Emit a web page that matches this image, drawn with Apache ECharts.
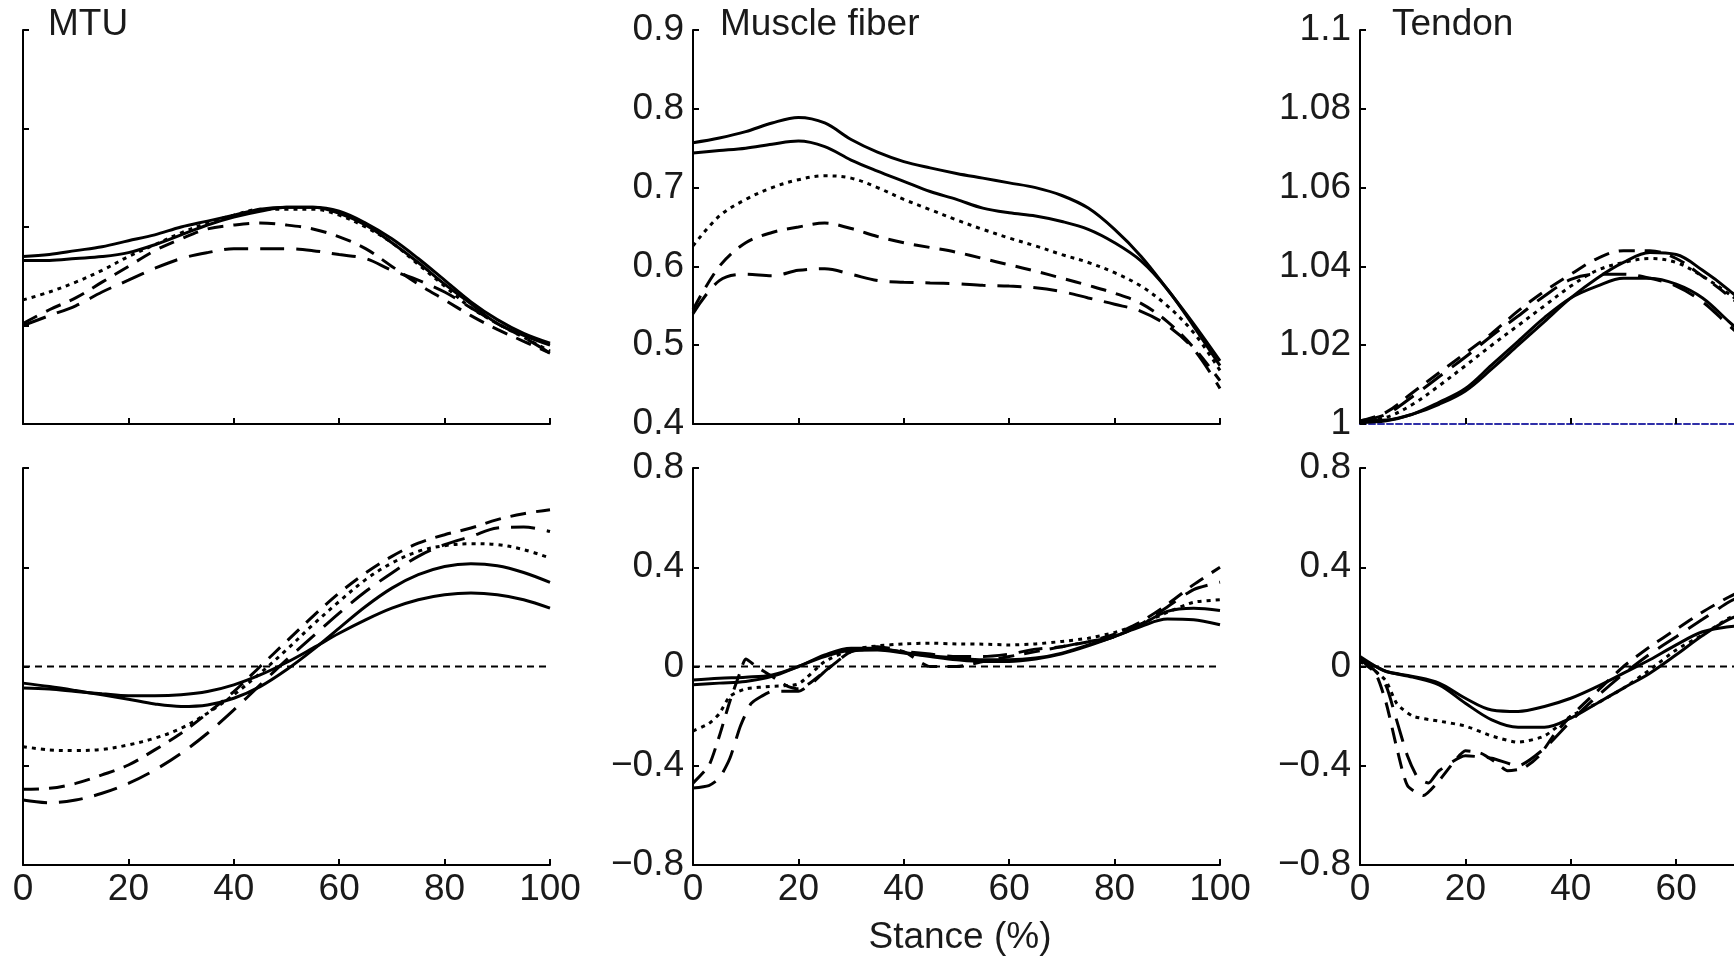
<!DOCTYPE html>
<html>
<head>
<meta charset="utf-8">
<script src="https://cdn.jsdelivr.net/npm/echarts@6/dist/echarts.min.js"></script>
<style>
html,body{margin:0;padding:0;background:#fff;}
#chart{width:1734px;height:960px;}
</style>
</head>
<body>
<div id="chart"></div>
<script>
// ---------------- DATA ----------------
const stance = [0,5,10,15,20,25,30,35,40,45,50,55,60,65,70,75,80,85,90,95,100];
const stanceTendon = [0,5,10,15,20,25,30,35,40,45,50,55,60,65,70,75];
const xTicks = [0,20,40,60,80,100];

// MTU length (top left)
const mtuLenSolid1 = [0.985,0.986,0.988,0.990,0.993,0.996,1.000,1.003,1.006,1.009,1.010,1.010,1.008,1.002,0.994,0.984,0.973,0.962,0.953,0.946,0.941];
const mtuLenSolid2 = [0.983,0.983,0.984,0.985,0.987,0.991,0.996,1.001,1.005,1.008,1.010,1.010,1.007,1.001,0.992,0.982,0.971,0.961,0.951,0.945,0.940];
const mtuLenDotted = [0.963,0.967,0.972,0.978,0.985,0.991,0.997,1.002,1.006,1.009,1.009,1.009,1.006,1.000,0.992,0.981,0.970,0.959,0.951,0.944,0.937];
const mtuLenDash1  = [0.951,0.958,0.964,0.972,0.980,0.988,0.994,0.999,1.001,1.002,1.001,0.999,0.995,0.989,0.980,0.971,0.963,0.955,0.948,0.942,0.936];
const mtuLenDash2  = [0.950,0.955,0.960,0.967,0.973,0.979,0.984,0.987,0.989,0.989,0.989,0.988,0.986,0.984,0.978,0.973,0.967,0.959,0.951,0.944,0.936];

// MTU velocity (bottom left)
const mtuVelSolid1 = [-0.067,-0.081,-0.097,-0.114,-0.132,-0.151,-0.161,-0.155,-0.128,-0.081,-0.013,0.067,0.155,0.242,0.316,0.370,0.403,0.414,0.406,0.379,0.339];
const mtuVelSolid2 = [-0.087,-0.091,-0.101,-0.110,-0.118,-0.118,-0.114,-0.101,-0.074,-0.034,0.016,0.074,0.134,0.188,0.235,0.269,0.289,0.296,0.289,0.269,0.235];
const mtuVelDotted = [-0.323,-0.336,-0.339,-0.334,-0.316,-0.289,-0.249,-0.188,-0.114,-0.027,0.067,0.168,0.262,0.350,0.417,0.464,0.487,0.495,0.491,0.471,0.437];
const mtuVelDash1  = [-0.495,-0.491,-0.471,-0.437,-0.397,-0.336,-0.269,-0.188,-0.101,0.000,0.101,0.202,0.296,0.377,0.444,0.497,0.531,0.558,0.592,0.616,0.632];
const mtuVelDash2  = [-0.538,-0.549,-0.538,-0.511,-0.471,-0.417,-0.350,-0.269,-0.175,-0.074,0.027,0.121,0.215,0.302,0.377,0.444,0.491,0.524,0.558,0.562,0.544];

// Muscle fiber length (top middle)
const fibLenSolid1 = [0.757,0.763,0.771,0.782,0.789,0.782,0.761,0.745,0.733,0.725,0.718,0.712,0.706,0.700,0.690,0.674,0.647,0.613,0.571,0.527,0.480];
const fibLenSolid2 = [0.744,0.747,0.750,0.755,0.759,0.752,0.735,0.721,0.708,0.695,0.685,0.674,0.668,0.664,0.657,0.647,0.630,0.607,0.571,0.524,0.474];
const fibLenDotted = [0.626,0.664,0.685,0.700,0.710,0.715,0.712,0.700,0.685,0.672,0.659,0.647,0.636,0.626,0.615,0.605,0.592,0.575,0.550,0.516,0.468];
const fibLenDash1  = [0.545,0.600,0.630,0.643,0.650,0.655,0.648,0.638,0.630,0.624,0.618,0.610,0.602,0.594,0.585,0.576,0.566,0.553,0.530,0.497,0.455];
const fibLenDash2  = [0.540,0.582,0.590,0.588,0.595,0.597,0.590,0.582,0.580,0.579,0.578,0.576,0.575,0.573,0.568,0.560,0.552,0.543,0.525,0.495,0.445];

// Muscle fiber velocity (bottom middle)
const fibVelSolid1 = [-0.054,-0.047,-0.043,-0.034,0.000,0.047,0.074,0.074,0.056,0.043,0.034,0.027,0.027,0.034,0.054,0.087,0.121,0.161,0.191,0.188,0.168];
const fibVelSolid2 = [-0.074,-0.067,-0.060,-0.040,0.000,0.040,0.065,0.067,0.054,0.040,0.027,0.020,0.020,0.030,0.051,0.083,0.121,0.168,0.222,0.235,0.226];
const fibVelDottedX = [0,3,5,7,10,15,20,25,30,35,40,45,50,55,60,65,70,75,80,85,90,95,100];
const fibVelDotted  = [-0.26,-0.23,-0.19,-0.12,-0.09,-0.08,-0.07,0.02,0.067,0.083,0.091,0.094,0.091,0.090,0.087,0.091,0.101,0.114,0.137,0.172,0.218,0.259,0.269];
const fibVelDash1X = [0,3,5,7,9,10,12,15,18,20,22,25,30,35,40,45,50,55,60,65,70,75,80,85,90,95,100];
const fibVelDash1  = [-0.47,-0.40,-0.28,-0.14,-0.02,0.03,0.00,-0.04,-0.08,-0.09,-0.07,-0.02,0.06,0.08,0.06,0.00,0.00,0.02,0.04,0.06,0.08,0.10,0.13,0.18,0.25,0.33,0.40];
const fibVelDash2X = [0,3,5,7,9,11,13,15,18,20,23,25,30,35,40,45,50,55,60,65,70,75,80,85,90,95,100];
const fibVelDash2  = [-0.49,-0.48,-0.45,-0.37,-0.24,-0.15,-0.12,-0.10,-0.10,-0.10,-0.06,-0.02,0.06,0.07,0.06,0.05,0.04,0.04,0.05,0.07,0.08,0.10,0.12,0.17,0.24,0.31,0.34];

// Tendon length (top right)
const tenLenSolid1 = [1.0008,1.001,1.0025,1.005,1.0084,1.014,1.020,1.026,1.032,1.037,1.041,1.0435,1.043,1.039,1.034,1.028];
const tenLenSolid2 = [1.0004,1.0008,1.0025,1.0055,1.009,1.015,1.021,1.027,1.032,1.035,1.037,1.037,1.0355,1.032,1.026,1.020];
const tenLenDotted = [1.0008,1.0017,1.005,1.0097,1.0148,1.020,1.025,1.030,1.035,1.039,1.041,1.042,1.041,1.0375,1.033,1.028];
const tenLenDash1  = [1.0008,1.003,1.008,1.013,1.018,1.023,1.0287,1.0337,1.038,1.042,1.044,1.044,1.042,1.0375,1.0325,1.027];
const tenLenDash2  = [1.0008,1.0025,1.007,1.012,1.017,1.0224,1.0274,1.0325,1.0367,1.038,1.038,1.037,1.035,1.031,1.025,1.019];

// Tendon velocity (bottom right)
const tenVelSolidX = [0,3,5,10,15,20,25,30,35,40,45,50,55,60,65,70,75];
const tenVelSolid1 = [0.04,0.00,-0.02,-0.04,-0.067,-0.128,-0.175,-0.181,-0.161,-0.128,-0.081,-0.027,0.027,0.087,0.14,0.16,0.17];
const tenVelSolid2 = [0.03,0.00,-0.02,-0.043,-0.074,-0.148,-0.215,-0.245,-0.245,-0.208,-0.148,-0.087,-0.027,0.047,0.125,0.19,0.23];
const tenVelDottedX = [0,3,5,7,10,15,20,25,30,35,40,45,50,55,60,65,70,75];
const tenVelDotted  = [0.02,-0.02,-0.06,-0.15,-0.20,-0.22,-0.24,-0.28,-0.305,-0.28,-0.20,-0.148,-0.087,-0.013,0.067,0.128,0.195,0.25];
const tenVelDash1X = [0,3,5,7,9,12,15,18,20,23,26,28,31,34,37,40,45,50,55,60,65,70,75];
const tenVelDash1  = [0.03,-0.03,-0.15,-0.33,-0.48,-0.52,-0.46,-0.38,-0.34,-0.35,-0.39,-0.42,-0.41,-0.36,-0.27,-0.20,-0.10,0.00,0.08,0.15,0.22,0.28,0.33];
const tenVelDash2X = [0,3,5,7,9,11,13,15,20,25,30,35,40,45,50,55,60,65,70,75];
const tenVelDash2  = [0.03,-0.02,-0.08,-0.22,-0.36,-0.45,-0.47,-0.42,-0.36,-0.37,-0.40,-0.33,-0.22,-0.12,-0.03,0.05,0.12,0.19,0.26,0.31];

// Reference lines
const zeroLineX = [0,100];
const zeroLineY = [0,0];

// Panel titles and axis title
const panelTitles = ['MTU','Muscle fiber','Tendon'];
const xAxisTitle = 'Stance (%)';

// ---------------- BUILD ----------------
const FONT = '"Liberation Sans", Arial, Helvetica, sans-serif';
const TXT = '#1a1a1a';
const zip = (xs, ys) => xs.map((x, i) => [x, ys[i]]);
const fmt = v => {
  const s = String(+v.toFixed(2));
  return s.replace('-', '\u2212');
};

const styles = {
  solid:  {type:'solid', width:3},
  dotted: {type:[4,5], width:3},
  dash1:  {type:[16,10], width:3},
  dash2:  {type:[24,12], width:3}
};

function line(idx, data, st, smooth) {
  return {
    type:'line', xAxisIndex:idx, yAxisIndex:idx, data:data,
    showSymbol:false, symbol:'none', smooth: smooth === undefined ? 0.35 : smooth,
    lineStyle:Object.assign({color:'#000', cap:'butt'}, styles[st]),
    silent:true, z:3
  };
}

const colLeft = [23, 693, 1360];
const colWidth = 527;
const rows = [{top:30, height:394}, {top:468, height:397}];

const grids = [];
for (let r = 0; r < 2; r++) for (let c = 0; c < 3; c++) {
  grids.push({left:colLeft[c], top:rows[r].top, width:colWidth, height:rows[r].height,
    containLabel:false, outerBoundsMode:'none'});
}

const yRanges = [
  {min:0.9, max:1.1, interval:0.05, label:false},
  {min:0.4, max:0.9, interval:0.1, label:true},
  {min:1.0, max:1.1, interval:0.02, label:true},
  {min:-0.8, max:0.8, interval:0.4, label:false},
  {min:-0.8, max:0.8, interval:0.4, label:true},
  {min:-0.8, max:0.8, interval:0.4, label:true}
];

const xAxes = grids.map((g, i) => ({
  type:'value', gridIndex:i, min:xTicks[0], max:xTicks[xTicks.length-1], interval:xTicks[1]-xTicks[0],
  axisLine:{show:true, onZero:false, lineStyle: i === 2 ? {color:'#2f2fa8', width:2, type:[6,3]} : {color:'#000', width:2}},
  axisTick:{show:true, inside:true, length:6, lineStyle:{color:'#000', width:2}},
  axisLabel:{show:i >= 3, fontSize:37, color:TXT, fontFamily:FONT, margin:6, formatter:v => String(v)},
  splitLine:{show:false}
}));

const yAxes = yRanges.map((r, i) => ({
  type:'value', gridIndex:i, min:r.min, max:r.max, interval:r.interval,
  axisLine:{show:true, onZero:false, lineStyle:{color:'#000', width:2}},
  axisTick:{show:true, inside:true, length:6, lineStyle:{color:'#000', width:2}},
  axisLabel:{show:r.label, fontSize:37, color:TXT, fontFamily:FONT, margin:9, formatter:fmt},
  splitLine:{show:false}
}));

const series = [
  line(0, zip(stance, mtuLenSolid1), 'solid'),
  line(0, zip(stance, mtuLenSolid2), 'solid'),
  line(0, zip(stance, mtuLenDotted), 'dotted'),
  line(0, zip(stance, mtuLenDash1), 'dash1'),
  line(0, zip(stance, mtuLenDash2), 'dash2'),

  line(1, zip(stance, fibLenSolid1), 'solid'),
  line(1, zip(stance, fibLenSolid2), 'solid'),
  line(1, zip(stance, fibLenDotted), 'dotted'),
  line(1, zip(stance, fibLenDash1), 'dash1'),
  line(1, zip(stance, fibLenDash2), 'dash2'),

  line(2, zip(stanceTendon, tenLenSolid1), 'solid'),
  line(2, zip(stanceTendon, tenLenSolid2), 'solid'),
  line(2, zip(stanceTendon, tenLenDotted), 'dotted'),
  line(2, zip(stanceTendon, tenLenDash1), 'dash1'),
  line(2, zip(stanceTendon, tenLenDash2), 'dash2'),

  line(3, zip(stance, mtuVelSolid1), 'solid'),
  line(3, zip(stance, mtuVelSolid2), 'solid'),
  line(3, zip(stance, mtuVelDotted), 'dotted'),
  line(3, zip(stance, mtuVelDash1), 'dash1'),
  line(3, zip(stance, mtuVelDash2), 'dash2'),

  line(4, zip(stance, fibVelSolid1), 'solid'),
  line(4, zip(stance, fibVelSolid2), 'solid'),
  line(4, zip(fibVelDottedX, fibVelDotted), 'dotted', 0.2),
  line(4, zip(fibVelDash1X, fibVelDash1), 'dash1', 0.2),
  line(4, zip(fibVelDash2X, fibVelDash2), 'dash2', 0.2),

  line(5, zip(tenVelSolidX, tenVelSolid1), 'solid'),
  line(5, zip(tenVelSolidX, tenVelSolid2), 'solid'),
  line(5, zip(tenVelDottedX, tenVelDotted), 'dotted', 0.2),
  line(5, zip(tenVelDash1X, tenVelDash1), 'dash1', 0.2),
  line(5, zip(tenVelDash2X, tenVelDash2), 'dash2', 0.2)
];

// zero reference lines in the bottom row
for (let i = 3; i < 6; i++) {
  series.push({
    type:'line', xAxisIndex:i, yAxisIndex:i, data:zip(zeroLineX, zeroLineY),
    showSymbol:false, symbol:'none', silent:true, z:2,
    lineStyle:{color:'#000', width:2, type:[7,5]}
  });
}

const titleX = [48, 720, 1392];
const graphics = panelTitles.map((t, i) => ({
  type:'text', x:titleX[i], y:25, silent:true,
  style:{text:t, fontSize:37, fontFamily:FONT, fill:TXT, textAlign:'left', textVerticalAlign:'middle'}
}));
graphics.push({
  type:'text', x:960, y:938, silent:true,
  style:{text:xAxisTitle, fontSize:37, fontFamily:FONT, fill:TXT, textAlign:'center', textVerticalAlign:'middle'}
});

const chart = echarts.init(document.getElementById('chart'), null, {renderer:'canvas'});
chart.setOption({
  backgroundColor:'#ffffff',
  animation:false,
  grid:grids,
  xAxis:xAxes,
  yAxis:yAxes,
  series:series,
  graphic:graphics
});
</script>
</body>
</html>
